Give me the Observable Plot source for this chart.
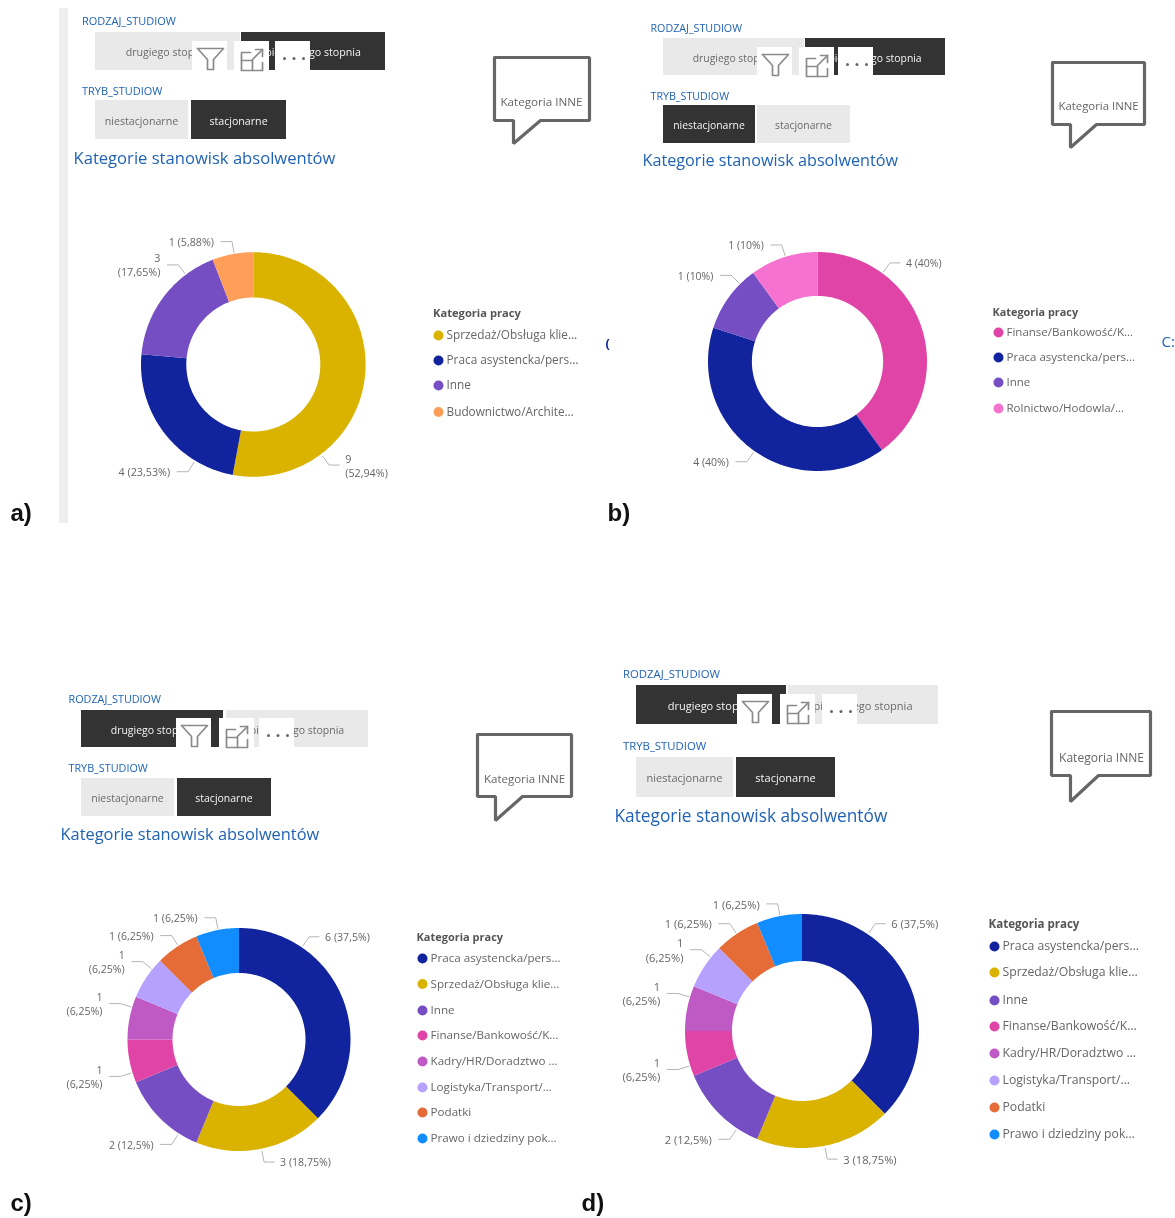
<!DOCTYPE html>
<html><head><meta charset="utf-8">
<style>html,body{margin:0;padding:0;background:#fff}svg{display:block;filter:blur(.3px)}</style>
<script src="https://cdn.jsdelivr.net/npm/d3@7"></script>
<script src="https://cdn.jsdelivr.net/npm/@observablehq/plot@0.6"></script>
</head><body>
<script>
// ---- data ----
const SPRZ="Sprzedaż/Obsługa klie…",PRACA="Praca asystencka/pers…",INNE="Inne",BUD="Budownictwo/Archite…",
 FIN="Finanse/Bankowość/K…",ROL="Rolnictwo/Hodowla/…",KAD="Kadry/HR/Doradztwo …",LOG="Logistyka/Transport/…",POD="Podatki",PRAWO="Prawo i dziedziny pok…";
const allCategories=[SPRZ,PRACA,INNE,BUD,FIN,ROL,KAD,LOG,POD,PRAWO];
const allColors=["#dab300","#12239e","#744ec2","#ff9e58","#e044a7","#f572d0","#bf5ac5","#b6a1ff","#e66c37","#118dff"];
const categoriesA=[SPRZ,PRACA,INNE,BUD], valuesA=[9,4,3,1];
const categoriesB=[FIN,PRACA,INNE,ROL], valuesB=[4,4,1,1];
const categoriesC=[PRACA,SPRZ,INNE,FIN,KAD,LOG,POD,PRAWO], valuesC=[6,3,2,1,1,1,1,1];
const categoriesD=categoriesC, valuesD=[6,3,2,1,1,1,1,1];
const sliceLabelsWrapA=[1,0,1,0], sliceLabelsWrapB=[0,0,0,0], sliceLabelsWrapC=[0,0,0,1,1,1,0,0];
const rodzajOptions=["drugiego stopnia","pierwszego stopnia"], trybOptions=["niestacjonarne","stacjonarne"];

// ---- layout ----
const panels=[
 {id:"a",k:1.015,cats:categoriesA,vals:valuesA,wrap:sliceLabelsWrapA,lead:[143,211.6,323,350],c:[253.3,364.5],R:112.3,r:67,
  leg:{t:[432.5,313],dot:438,text:446,ys:[335,360,385,411.5]},
  s:{lx:81.5,l1:21,l2:91,r1:[32,70],r2:[100,139],b1:[95,240,241,385],b2:[95,188,191,286],sel1:1,sel2:1,tx:73,ty:158,ts:16.6,icon:[192,234,275],iconTop:41,
     box:[494,589,57,120],tail:[513,143,540],bt:[541,102]}},
 {id:"b",k:0.99,cats:categoriesB,vals:valuesB,wrap:sliceLabelsWrapB,lead:[36,215.5,315,342.8],c:[817.5,361.5],R:109.5,r:65.6,
  leg:{t:[992,312],dot:998,text:1006,ys:[332,357,382,408]},
  s:{lx:650,l1:28,l2:96,r1:[38,75],r2:[105,143],b1:[663,804,805,945],b2:[663,755,757,850],sel1:1,sel2:0,tx:642,ty:160,ts:16.2,icon:[757,799,838],iconTop:47,
     box:[1052,1144,62,124],tail:[1070,147,1096],bt:[1098,106]}},
 {id:"c",k:1,cats:categoriesC,vals:valuesC,wrap:sliceLabelsWrapC,lead:[34,168.6,213,253,287,309,327,349],c:[239,1039.5],R:111.5,r:66.5,
  leg:{t:[416,937],dot:422,text:430,ys:[958,983.5,1010,1035,1061,1087,1112,1138]},
  s:{lx:68,l1:699,l2:768,r1:[710,747],r2:[778,816],b1:[81,223,226,368],b2:[81,174,177,271],sel1:0,sel2:1,tx:60,ty:834,ts:16.4,icon:[176,219,259],iconTop:718,
     box:[477,571,734,796],tail:[495,820,522],bt:[524,779]}},
 {id:"d",k:1.05,cats:categoriesD,vals:valuesD,wrap:sliceLabelsWrapC,lead:[34,169,214,253,287,309,326,349],c:[802,1031],R:117,r:70,
  leg:{t:[988,924],dot:994,text:1002,ys:[946,972,1000,1026,1053,1080,1107,1134]},
  s:{lx:622.5,l1:674,l2:746,r1:[685,724],r2:[757,797],b1:[636,786,788,938],b2:[636,733,736,835],sel1:0,sel2:1,tx:614,ty:816,ts:17.3,icon:[737,780,822],iconTop:694,
     box:[1051,1150,711,775],tail:[1070,801,1098],bt:[1101,758]}}
];
const panelLetters=[{t:"a)",x:10,y:513},{t:"b)",x:607,y:513},{t:"c)",x:10,y:1203},{t:"d)",x:581,y:1203}];
const FONT="'Open Sans',sans-serif", BLUE="#1f62b5", GREY="#666";

// ---- derived geometry ----
const polar=(p,deg,rad)=>{const a=deg*Math.PI/180;return [p.c[0]+rad*Math.sin(a),p.c[1]-rad*Math.cos(a)];};
const arcPts=[],leaders=[],labels=[],legendDots=[],legendText=[],legendTitles=[];
const btn=[],btnText=[],whites=[],iconLines=[],iconDots=[],heads=[],titles=[],callouts=[],calloutText=[];
panels.forEach(p=>{
 const total=d3.sum(p.vals);let acc=0;
 p.vals.forEach((v,i)=>{
  const a0=acc/total*360,a1=(acc+v)/total*360;acc+=v;
  const n=Math.ceil(a1-a0);const key=p.id+i;
  for(let k=0;k<=n;k++){const a=a0+(a1-a0)*k/n,o=polar(p,a,p.R),q=polar(p,a,p.r);
   arcPts.push({key,cat:p.cats[i],x1:o[0],y1:o[1],x2:q[0],y2:q[1]});}
  const la=p.lead[i],s=polar(p,la,p.R+2),e=polar(p,la,p.R+13),left=la>180,h=[e[0]+(left?-11:10),e[1]];
  [s,e,h].forEach(pt=>leaders.push({key,x:pt[0],y:pt[1]}));
  const pct=String(+(v/total*100).toFixed(2)).replace(".",",");
  labels.push({x:h[0]+(left?-7:6),y:h[1],left,size:10.6*p.k,text:p.wrap[i]?`${v}\n(${pct}%)`:`${v} (${pct}%)`});
  legendDots.push({cat:p.cats[i],x:p.leg.dot,y:p.leg.ys[i]});
  legendText.push({text:p.cats[i],x:p.leg.text,y:p.leg.ys[i],size:11.65*p.k});
 });
 legendTitles.push({x:p.leg.t[0],y:p.leg.t[1],size:11*p.k});
 const S=p.s;
 const row=(label,ly,r,b,sel,opts)=>{
  heads.push({text:label,x:S.lx,y:ly,size:10.8*p.k});
  [[b[0],b[1]],[b[2],b[3]]].forEach((bb,j)=>{
   const on=j===sel;
   btn.push({x1:bb[0],x2:bb[1],y1:r[0],y2:r[1],fill:on?"#333333":"#e9e9e9"});
   btnText.push({text:opts[j],x:(bb[0]+bb[1])/2-.5,y:(r[0]+r[1])/2+1.2,size:10.5*p.k,fill:on?"#f4f4f4":"#6a6a6a"});
  });
 };
 row("RODZAJ_STUDIOW",S.l1,S.r1,S.b1,S.sel1,rodzajOptions);
 row("TRYB_STUDIOW",S.l2,S.r2,S.b2,S.sel2,trybOptions);
 titles.push({x:S.tx,y:S.ty,size:S.ts});
 const top=S.iconTop,bot=S.r1[1],[f,ex,dt]=S.icon;
 whites.push({x1:f,x2:f+35,y1:top,y2:bot},{x1:ex,x2:ex+35,y1:top,y2:bot},{x1:dt,x2:dt+35,y1:top,y2:bot});
 const line=(key,pts)=>pts.forEach(q=>iconLines.push({key:p.id+key,x:q[0],y:q[1]}));
 const fx=f+5,fy=top+7;
 line("f",[[fx,fy],[fx+26,fy],[fx+16,fy+11],[fx+16,fy+21],[fx+10,fy+21],[fx+10,fy+11],[fx,fy]]);
 const gx=ex+7,gy=top+11;
 line("g1",[[gx+9,gy],[gx,gy],[gx,gy+18],[gx+21,gy+18],[gx+21,gy+10]]);
 line("g2",[[gx,gy+8],[gx+11,gy+8],[gx+11,gy+18]]);
 line("g3",[[gx+11,gy+7],[gx+21,gy-3]]);
 line("g4",[[gx+14,gy-3],[gx+21,gy-3],[gx+21,gy+4]]);
 [9,18.5,28].forEach(d=>iconDots.push({x:dt+d,y:top+17}));
 const [bl,br,bt,bb]=S.box,[tx,ty,tr]=S.tail;
 [[bl,bt],[br,bt],[br,bb],[tr,bb],[tx,ty],[tx,bb],[bl,bb],[bl,bt]].forEach(q=>callouts.push({key:p.id,x:q[0],y:q[1]}));
 calloutText.push({x:S.bt[0],y:S.bt[1],size:11.5*p.k});
});

const txt=(data,o)=>Plot.text(data,{x:"x",y:"y",fontFamily:FONT,fontSize:d=>d.size,...o});
const chart=Plot.plot({
 width:1175,height:1218,margin:0,
 x:{domain:[0,1175],range:[0,1175],axis:null},
 y:{domain:[0,1218],range:[0,1218],axis:null},
 color:{domain:allCategories,range:allColors},
 style:{background:"#fff",fontFamily:FONT},
 marks:[
  Plot.rect([{x1:59,x2:68,y1:8,y2:523}],{x1:"x1",x2:"x2",y1:"y1",y2:"y2",fill:"#eeeeee"}),
  Plot.rect(btn,{x1:"x1",x2:"x2",y1:"y1",y2:"y2",fill:d=>d.fill}),
  txt(btnText,{text:"text",fill:d=>d.fill}),
  Plot.rect(whites,{x1:"x1",x2:"x2",y1:"y1",y2:"y2",fill:"#fff"}),
  Plot.line(iconLines,{x:"x",y:"y",z:"key",stroke:"#8a8a8a",strokeWidth:1.7}),
  Plot.dot(iconDots,{x:"x",y:"y",r:1.5,fill:"#666"}),
  txt(heads,{text:"text",fill:BLUE,textAnchor:"start"}),
  txt(titles,{text:()=>"Kategorie stanowisk absolwentów",fill:BLUE,textAnchor:"start"}),
  Plot.line(callouts,{x:"x",y:"y",z:"key",stroke:"#666",strokeWidth:3.2,strokeLinejoin:"miter"}),
  txt(calloutText,{text:()=>"Kategoria INNE",fill:GREY}),
  Plot.area(arcPts,{x1:"x1",y1:"y1",x2:"x2",y2:"y2",z:"key",fill:"cat"}),
  Plot.line(leaders,{x:"x",y:"y",z:"key",stroke:"#b5b5b5",strokeWidth:1}),
  txt(labels.filter(d=>d.left),{text:"text",fill:GREY,textAnchor:"end",lineHeight:1.3}),
  txt(labels.filter(d=>!d.left),{text:"text",fill:GREY,textAnchor:"start",lineHeight:1.3}),
  txt(legendTitles,{text:()=>"Kategoria pracy",fill:"#555",fontWeight:700,textAnchor:"start"}),
  Plot.dot(legendDots,{x:"x",y:"y",r:5,fill:"cat"}),
  txt(legendText,{text:"text",fill:GREY,textAnchor:"start"}),
  Plot.text([{x:1161,y:342}],{x:"x",y:"y",text:()=>"C:",fill:BLUE,fontFamily:FONT,fontSize:15,textAnchor:"start"}),
  Plot.text([{x:605,y:343}],{x:"x",y:"y",text:()=>"(",fill:"#12239e",fontFamily:FONT,fontSize:13,fontWeight:700,textAnchor:"start"}),
  Plot.text(panelLetters,{x:"x",y:"y",text:"t",fill:"#111",fontFamily:"'Liberation Sans',sans-serif",fontSize:24,fontWeight:700,textAnchor:"start"})
 ]
});
document.body.appendChild(chart);
</script>
</body></html>
